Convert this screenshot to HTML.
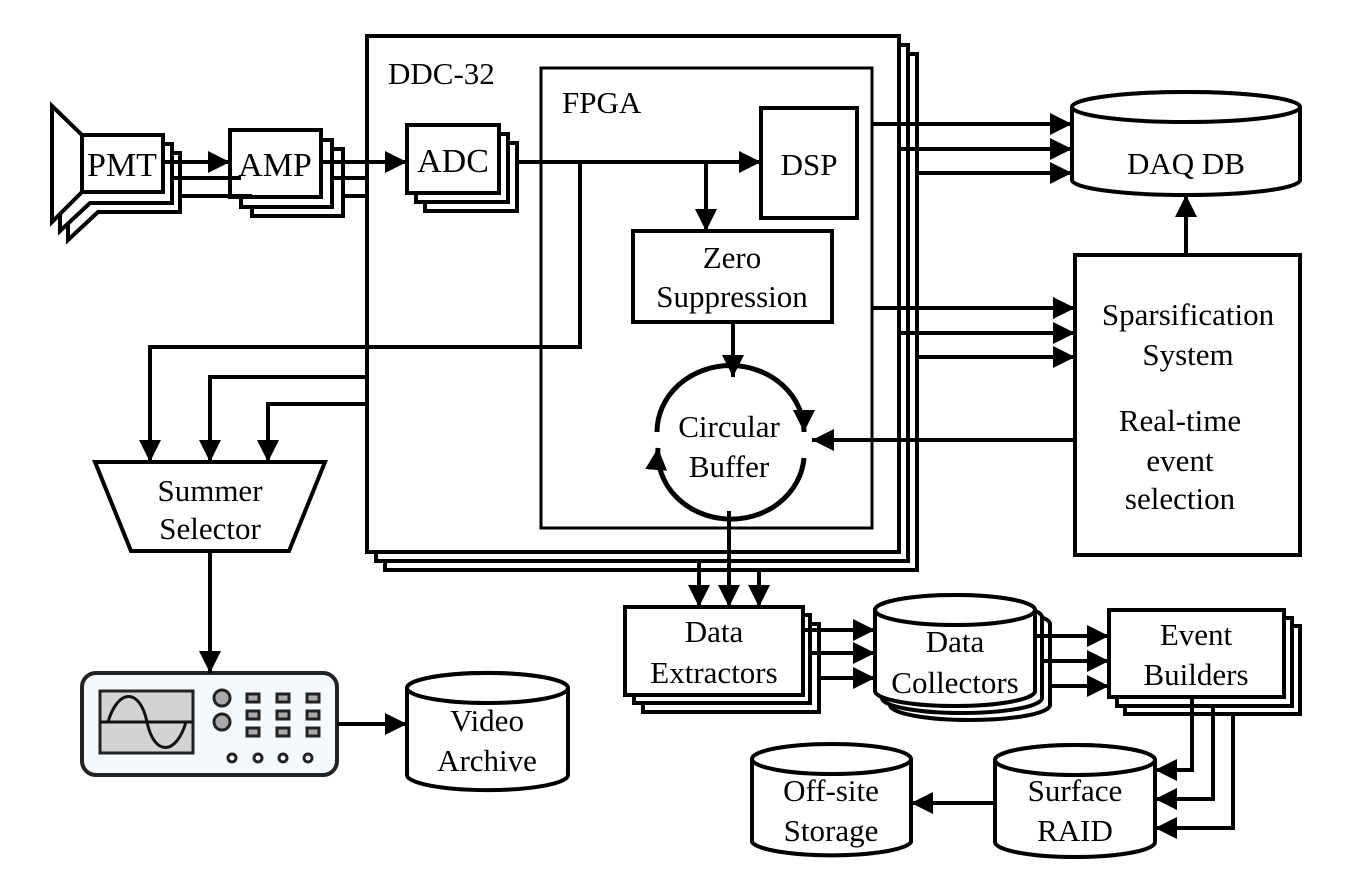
<!DOCTYPE html>
<html><head><meta charset="utf-8"><style>
html,body{margin:0;padding:0;background:#fff}
svg{display:block}
</style></head><body>
<svg width="1348" height="894" viewBox="0 0 1348 894" xmlns="http://www.w3.org/2000/svg" font-family="'Liberation Serif','Times New Roman','DejaVu Serif',serif" font-size="31">
<defs>
<marker id="a" markerUnits="userSpaceOnUse" markerWidth="24" markerHeight="22" refX="22" refY="11" orient="auto"><path d="M0,0 L22,11 L0,22 Z" fill="#000"/></marker>
</defs>
<g fill="#fff" stroke="#000" stroke-width="4">
<rect x="385" y="54" width="532" height="516"/>
<rect x="376" y="45" width="532" height="516"/>
<rect x="367" y="36" width="532" height="516"/>
<rect x="541" y="68" width="331" height="460" stroke-width="3"/>
<path d="M68,124 L98,153 L180,153 L180,212 L98,212 L68,240 Z"/>
<path d="M60,115 L90,144 L172,144 L172,203 L90,203 L60,231 Z"/>
<path d="M52,106 L82,135 L163,135 L163,192 L82,192 L52,222 Z"/>
<line x1="82" y1="135" x2="82" y2="192"/>
<rect x="252" y="149" width="91" height="67"/>
<rect x="241" y="140" width="91" height="67"/>
<rect x="230" y="130" width="91" height="67"/>
<rect x="425" y="143" width="92" height="68"/>
<rect x="416" y="134" width="92" height="68"/>
<rect x="407" y="125" width="92" height="68"/>
<rect x="761" y="108" width="96" height="110"/>
<rect x="633" y="231" width="199" height="91"/>
<rect x="1075" y="255" width="225" height="300"/>
<path d="M95,462 L325,462 L289,551 L131,551 Z"/>
<rect x="643" y="624" width="176" height="88"/>
<rect x="634" y="615" width="176" height="88"/>
<rect x="625" y="607" width="178" height="88"/>
<rect x="1125" y="626" width="175" height="88"/>
<rect x="1117" y="618" width="175" height="88"/>
<rect x="1109" y="610" width="175" height="87"/>
</g>
<g fill="#fff" stroke="#000" stroke-width="4">
<path d="M1072,107 A114,15 0 0 1 1300,107 L1300,180 A114,15 0 0 1 1072,180 Z"/><ellipse cx="1186" cy="107" rx="114" ry="15"/>
<path d="M890,624 A80,15 0 0 1 1050,624 L1050,705 A80,15 0 0 1 890,705 Z"/>
<path d="M882,617 A80,15 0 0 1 1042,617 L1042,698 A80,15 0 0 1 882,698 Z"/>
<path d="M875,610 A80,15 0 0 1 1035,610 L1035,691 A80,15 0 0 1 875,691 Z"/><ellipse cx="955" cy="610" rx="80" ry="15"/>
<path d="M407,688 A80,15 0 0 1 568,688 L568,775 A80,15 0 0 1 407,775 Z"/><ellipse cx="487.5" cy="688" rx="80.5" ry="15"/>
<path d="M995,760 A80,15 0 0 1 1155,760 L1155,842 A80,15 0 0 1 995,842 Z"/><ellipse cx="1075" cy="760" rx="80" ry="15"/>
<path d="M752,759 A80,15 0 0 1 911,759 L911,842 A80,15 0 0 1 752,842 Z"/><ellipse cx="831.5" cy="759" rx="79.5" ry="15"/>
</g>
<rect x="82" y="673" width="255" height="102" rx="14" fill="#f6f9fc" stroke="#222" stroke-width="4"/>
<rect x="100" y="691" width="93" height="62" fill="#d3d3d3" stroke="#222" stroke-width="3"/>
<line x1="100" y1="722" x2="193" y2="722" stroke="#111" stroke-width="3"/>
<path d="M108,722 C118,688 140,688 147,722 C154,756 176,756 186,722" fill="none" stroke="#111" stroke-width="3"/>
<g fill="#aaa" stroke="#222" stroke-width="3"><circle cx="222" cy="698" r="8"/><circle cx="222" cy="722" r="8"/></g>
<g fill="#aaa" stroke="#222" stroke-width="3">
<rect x="247" y="694" width="12" height="8"/><rect x="277" y="694" width="12" height="8"/><rect x="307" y="694" width="12" height="8"/>
<rect x="247" y="711" width="12" height="8"/><rect x="277" y="711" width="12" height="8"/><rect x="307" y="711" width="12" height="8"/>
<rect x="247" y="728" width="12" height="8"/><rect x="277" y="728" width="12" height="8"/><rect x="307" y="728" width="12" height="8"/>
</g>
<g fill="#fff" stroke="#222" stroke-width="3"><circle cx="232" cy="758" r="4"/><circle cx="258" cy="758" r="4"/><circle cx="283" cy="758" r="4"/><circle cx="308" cy="758" r="4"/></g>
<g fill="none" stroke="#000" stroke-width="5">
<path d="M657,432 A73,66 0 0 1 804,432" marker-end="url(#a)"/>
<path d="M804,458 A73,66 0 0 1 658,448" marker-end="url(#a)"/>
</g>
<g fill="none" stroke="#000" stroke-width="4">
<line x1="163" y1="162" x2="230" y2="162" marker-end="url(#a)"/>
<line x1="172" y1="178" x2="241" y2="178"/>
<line x1="180" y1="196" x2="252" y2="196"/>
<line x1="321" y1="162" x2="407" y2="162" marker-end="url(#a)"/>
<line x1="332" y1="178" x2="367" y2="178"/>
<line x1="343" y1="196" x2="367" y2="196"/>
<line x1="517" y1="162" x2="761" y2="162" marker-end="url(#a)"/>
<line x1="706" y1="162" x2="706" y2="231" marker-end="url(#a)"/>
<polyline points="580,162 580,347 150,347 150,462" marker-end="url(#a)"/>
<polyline points="367,377 210,377 210,462" marker-end="url(#a)"/>
<polyline points="367,404 268,404 268,462" marker-end="url(#a)"/>
<line x1="733" y1="322" x2="733" y2="377" marker-end="url(#a)"/>
<line x1="1075" y1="440" x2="812" y2="440" marker-end="url(#a)"/>
<line x1="1186" y1="255" x2="1186" y2="195" marker-end="url(#a)"/>
<line x1="872" y1="124" x2="1072" y2="124" marker-end="url(#a)"/>
<line x1="899" y1="149" x2="1072" y2="149" marker-end="url(#a)"/>
<line x1="917" y1="173" x2="1072" y2="173" marker-end="url(#a)"/>
<line x1="872" y1="308" x2="1075" y2="308" marker-end="url(#a)"/>
<line x1="899" y1="333" x2="1075" y2="333" marker-end="url(#a)"/>
<line x1="917" y1="357" x2="1075" y2="357" marker-end="url(#a)"/>
<line x1="729" y1="511" x2="729" y2="607" marker-end="url(#a)"/>
<line x1="699" y1="561" x2="699" y2="607" marker-end="url(#a)"/>
<line x1="759" y1="570" x2="759" y2="607" marker-end="url(#a)"/>
<line x1="210" y1="551" x2="210" y2="673" marker-end="url(#a)"/>
<line x1="337" y1="724" x2="407" y2="724" marker-end="url(#a)"/>
<line x1="803" y1="630" x2="875" y2="630" marker-end="url(#a)"/>
<line x1="810" y1="653" x2="875" y2="653" marker-end="url(#a)"/>
<line x1="819" y1="678" x2="875" y2="678" marker-end="url(#a)"/>
<line x1="1035" y1="636" x2="1109" y2="636" marker-end="url(#a)"/>
<line x1="1042" y1="661" x2="1109" y2="661" marker-end="url(#a)"/>
<line x1="1050" y1="686" x2="1109" y2="686" marker-end="url(#a)"/>
<polyline points="1192,697 1192,770 1155,770" marker-end="url(#a)"/>
<polyline points="1213,706 1213,799 1155,799" marker-end="url(#a)"/>
<polyline points="1233,714 1233,828 1155,828" marker-end="url(#a)"/>
<line x1="995" y1="803" x2="911" y2="803" marker-end="url(#a)"/>
</g>
<g fill="#000">
<text x="388" y="84">DDC-32</text>
<text x="562" y="113">FPGA</text>
<g text-anchor="middle">
<text x="122" y="176" font-size="34">PMT</text>
<text x="275" y="176" font-size="34">AMP</text>
<text x="453" y="172" font-size="34">ADC</text>
<text x="809" y="175">DSP</text>
<text x="732" y="268">Zero</text>
<text x="732" y="307">Suppression</text>
<text x="729" y="437">Circular</text>
<text x="729" y="477">Buffer</text>
<text x="1186" y="174">DAQ DB</text>
<text x="1188" y="325">Sparsification</text>
<text x="1188" y="365">System</text>
<text x="1180" y="431">Real-time</text>
<text x="1180" y="471">event</text>
<text x="1180" y="509">selection</text>
<text x="210" y="501">Summer</text>
<text x="210" y="539">Selector</text>
<text x="487" y="731">Video</text>
<text x="487" y="771">Archive</text>
<text x="714" y="642">Data</text>
<text x="714" y="683">Extractors</text>
<text x="955" y="652">Data</text>
<text x="955" y="693">Collectors</text>
<text x="1196" y="645">Event</text>
<text x="1196" y="685">Builders</text>
<text x="1075" y="801">Surface</text>
<text x="1075" y="841">RAID</text>
<text x="831" y="801">Off-site</text>
<text x="831" y="841">Storage</text>
</g>
</g>
</svg>
</body></html>
